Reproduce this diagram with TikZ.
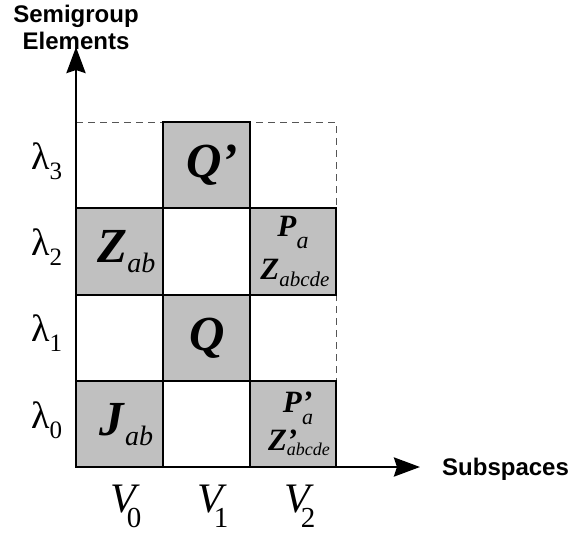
\documentclass[tikz,border=0pt]{standalone}
\usepackage{fontspec}
\setmainfont{Liberation Serif}
\newfontfamily\axisfont{Liberation Sans}
\usetikzlibrary{arrows.meta,positioning}
\definecolor{cellgray}{HTML}{C0C0C0}
\definecolor{dashgray}{HTML}{555555}
% bold italic letter and lowered subscript
\newcommand{\bi}[1]{\textbf{\textit{#1}}}
\newcommand{\lsub}[3]{\raisebox{-#1pt}{\fontsize{#2}{#2}\selectfont #3}}

\begin{document}
\begin{tikzpicture}[
    x=1pt,y=-1pt,
    cell/.style={draw,line width=1.8pt,fill=cellgray,minimum width=86.6pt,minimum height=86.3pt,inner sep=0pt,align=center},
    big/.style={font=\fontsize{49}{54}\selectfont},
    small/.style={font=\fontsize{31}{43}\selectfont},
    axis/.style={line width=2.8pt,-{Stealth[length=26pt,width=19pt,inset=3pt]}},
    axislabel/.style={font=\axisfont\bfseries\fontsize{24}{27}\selectfont,align=center},
    ticklabel/.style={font=\fontsize{38}{44}\selectfont,anchor=base west,inner sep=0pt}
]
\useasboundingbox (0,0) rectangle (571,536);

% outline of the grid
\draw[dashgray,dashed,line width=0.9pt,dash pattern=on 7pt off 5pt] (76,122) -- (336,122) -- (336,467);

% filled cells
\node[cell,big] (qq) at (206.3,165.2) {\hspace*{12pt}\bi{Q’}};
\node[cell,big] (zab) at (119.3,251.5) {\hspace*{14pt}\bi{Z}\lsub{10}{28}{\textit{ab}}};
\node[cell,small] (pa) at (293,251.5) {\bi{P}\lsub{12}{24}{\textit{a}}\\\hspace*{4pt}\bi{Z}\lsub{7}{21}{\textit{abcde}}};
\node[cell,big] (q) at (206.3,337.8) {\hspace*{2pt}\bi{Q}};
\node[cell,big] (jab) at (119.3,424.1) {\hspace*{14pt}\bi{J}\lsub{10}{28}{\textit{ab}}};
\node[cell,small,font=\fontsize{31}{38}\selectfont] (ppa) at (293,424.1) {\hspace*{10pt}\bi{P}\rlap{\bi{’}}\lsub{12}{22}{\textit{a}}\\\hspace*{12pt}\bi{Z}\rlap{\bi{’}}\lsub{5}{18}{\textit{abcde}}};

% axes
\coordinate (o) at (76,467);
\coordinate (xend) at (420,467);
\coordinate (yend) at (76,47);
\draw[axis] (o) -- (xend);
\draw[axis] (o) -- (yend);
\node[axislabel] (ylab) at (76,27) {Semigroup\\Elements};
\node[axislabel,anchor=base west,inner sep=0pt] (xlab) at (442,475) {Subspaces};

% row and column labels
\node[ticklabel] (l3) at (31,169) {λ\lsub{10}{25}{3}};
\node[ticklabel] (l2) at (31,255) {λ\lsub{10}{25}{2}};
\node[ticklabel] (l1) at (31,341) {λ\lsub{10}{25}{1}};
\node[ticklabel] (l0) at (31,428) {λ\lsub{10}{25}{0}};
\node[ticklabel,font=\fontsize{42}{48}\selectfont] (v0) at (110,512) {\textit{V}\kern-13pt\lsub{15}{29}{0}};
\node[ticklabel,font=\fontsize{42}{48}\selectfont] (v1) at (197,512) {\textit{V}\kern-13pt\lsub{15}{29}{1}};
\node[ticklabel,font=\fontsize{42}{48}\selectfont] (v2) at (284,512) {\textit{V}\kern-13pt\lsub{15}{29}{2}};
\end{tikzpicture}
\end{document}
